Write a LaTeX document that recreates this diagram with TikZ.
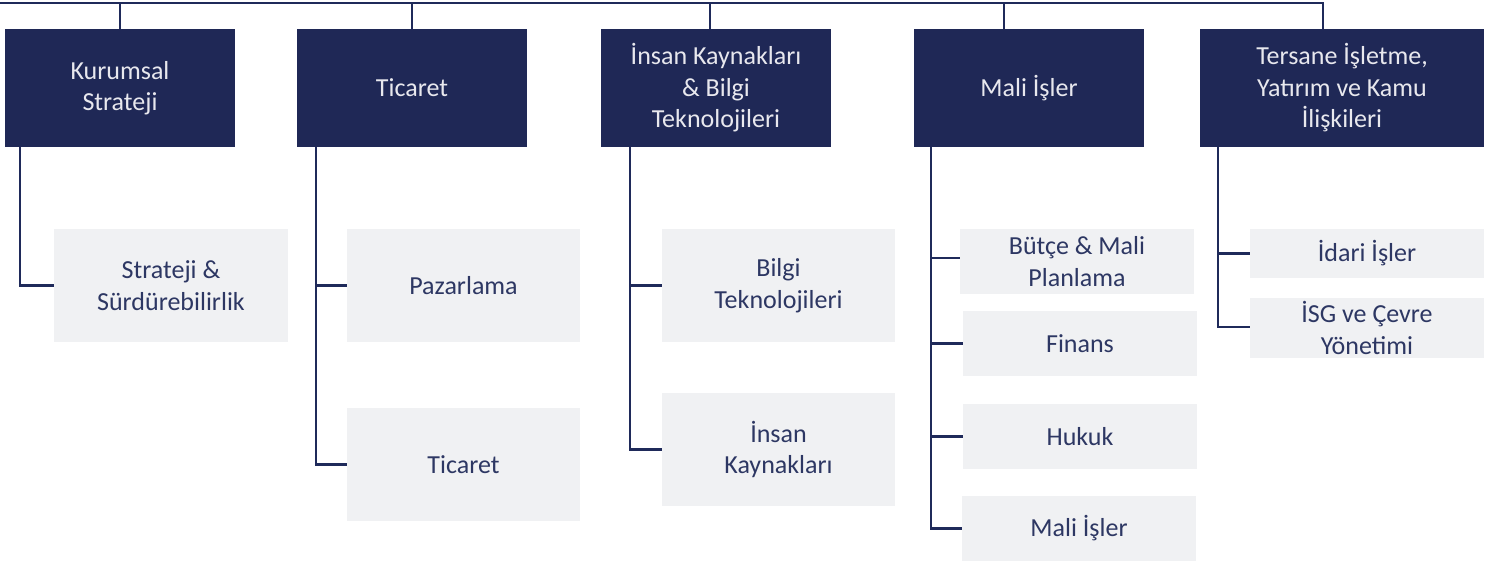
\documentclass[tikz,border=0pt]{standalone}
\usepackage{fontspec}
\setmainfont{Carlito}
\definecolor{navy}{HTML}{1F2856}
\definecolor{linec}{HTML}{1F2A5A}
\definecolor{lightbox}{HTML}{F0F1F3}
\definecolor{headtext}{HTML}{E8E8EE}
\definecolor{childtext}{HTML}{2D3763}
\tikzset{
  head/.style={fill=navy, text=headtext, minimum height=118pt, inner sep=0pt, align=center,
    font=\fontsize{26}{31.5}\selectfont},
  child/.style={fill=lightbox, text=childtext, minimum width=234pt, inner sep=0pt, align=center,
    font=\fontsize{26}{31.5}\selectfont},
  conn/.style={draw=linec, line width=2.6pt}
}
\begin{document}
\begin{tikzpicture}[x=1pt,y=-1pt]
\useasboundingbox (0,0) rectangle (1501,564);
% headers
\node[head, minimum width=230pt] (h1) at (120,88) {Kurumsal\\Strateji};
\node[head, minimum width=230pt] (h2) at (412,88) {Ticaret};
\node[head, minimum width=230pt] (h3) at (716,88) {İnsan Kaynakları\\\& Bilgi\\Teknolojileri};
\node[head, minimum width=230pt] (h4) at (1029,88) {\raisebox{4pt}{Mali İşler}};
\node[head, minimum width=284pt] (h5) at (1342,88) {Tersane İşletme,\\Yatırım ve Kamu\\İlişkileri};
% children
\node[child, minimum height=113pt] (c11) at (171,285.5) {Strateji \&\\Sürdürebilirlik};
\node[child, minimum width=233pt, minimum height=113pt] (c21) at (463.5,285.5) {Pazarlama};
\node[child, minimum width=233pt, minimum height=113pt] (c22) at (463.5,464.5) {Ticaret};
\node[child, minimum width=233pt, minimum height=113pt] (c31) at (778.5,285.5) {Bilgi\\Teknolojileri};
\node[child, minimum width=233pt, minimum height=113pt] (c32) at (778.5,449.5) {İnsan\\Kaynakları};
\node[child, minimum height=65pt] (c41) at (1077,261.5) {Bütçe \& Mali\\Planlama};
\node[child, minimum height=65pt] (c42) at (1080,343.5) {Finans};
\node[child, minimum height=65pt] (c43) at (1080,436.5) {Hukuk};
\node[child, minimum height=65pt] (c44) at (1079,528.5) {Mali İşler};
\node[child, minimum height=49pt] (c51) at (1367,253.5) {İdari İşler};
\node[child, minimum height=60pt] (c52) at (1367,328) {İSG ve Çevre\\Yönetimi};
% top bus
\coordinate (tl) at (0,3);
\coordinate (t1) at (120,3);
\coordinate (t2) at (412,3);
\coordinate (t3) at (710,3);
\coordinate (t4) at (1004,3);
\coordinate (t5) at (1323,3);
\draw[conn] (tl) -- (t5) -- (t5 |- h5.north);
\draw[conn] (t1) -- (t1 |- h1.north);
\draw[conn] (t2) -- (t2 |- h2.north);
\draw[conn] (t3) -- (t3 |- h3.north);
\draw[conn] (t4) -- (t4 |- h4.north);
% child connectors
\coordinate (v1) at (20,147);
\coordinate (v2) at (316,147);
\coordinate (v3) at (630,147);
\coordinate (v4) at (931,147);
\coordinate (v5) at (1218,147);
\draw[conn] (v1) |- (c11.west);
\draw[conn] (v2) |- (c21.west);
\draw[conn] (v2) |- (c22.west);
\draw[conn] (v3) |- (c31.west);
\draw[conn] (v3) |- (c32.west);
\draw[conn] (v4) |- ([yshift=3.5pt]c41.west);
\draw[conn] (v4) |- (c42.west);
\draw[conn] (v4) |- (c43.west);
\draw[conn] (v4) |- (c44.west);
\draw[conn] (v5) |- (c51.west);
\draw[conn] (v5) |- ([yshift=1pt]c52.west);
\end{tikzpicture}
\end{document}
